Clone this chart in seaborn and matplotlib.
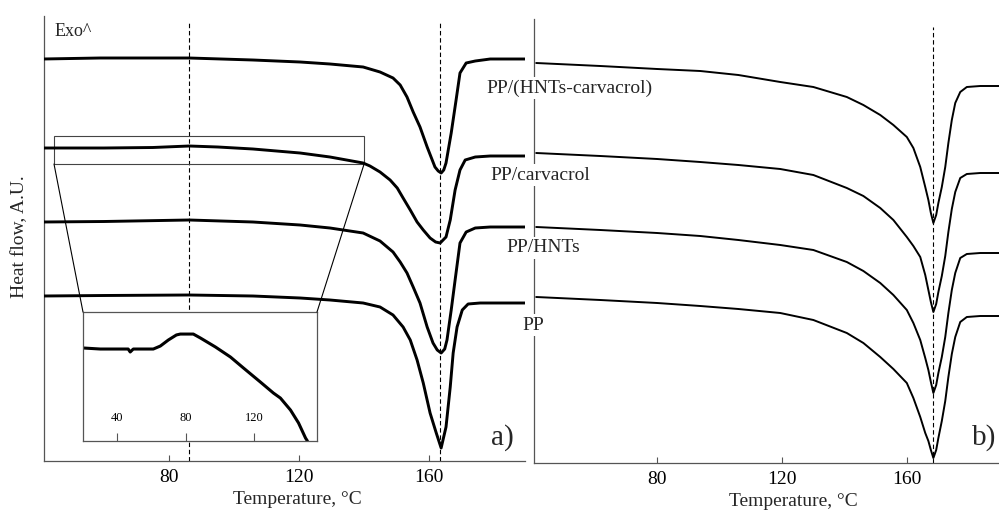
import numpy as np
import pandas as pd
import matplotlib
matplotlib.use("Agg")
import matplotlib.pyplot as plt
import seaborn as sns
from matplotlib.patches import Rectangle, ConnectionPatch

sns.set_theme(style="white")
plt.rcParams['font.family'] = ['Liberation Serif', 'DejaVu Serif']

# ---------------- data ----------------
samples = ["PP/(HNTs-carvacrol)", "PP/carvacrol", "PP/HNTs", "PP"]
x_ticks = [80, 120, 160]
inset_ticks = [40, 80, 120]

# panel a) – heat flow (A.U.) vs temperature (°C)
a_t1 = [41.2, 58.8, 86.2, 105.8, 120.3, 129.5, 139.7, 144.9, 148.9, 151.1, 153.2, 155.1, 157.2,
        159.4, 161.8, 162.8, 163.7, 164.5, 165.2, 166.8, 168.3, 169.5, 171.4, 174.2, 178.8, 189.5]
a_h1 = [40.2, 40.3, 40.3, 40.1, 39.9, 39.7, 39.4, 38.9, 38.3, 37.6, 36.4, 34.9, 33.4,
        31.4, 29.4, 29.0, 28.8, 29.1, 29.8, 32.8, 36.1, 38.8, 39.8, 40.0, 40.2, 40.2]

a_t2 = [41.2, 60.0, 75.0, 86.2, 95.0, 105.8, 120.3, 129.5, 139.7, 141.8, 144.9, 148.0, 150.2, 152.0,
        154.2, 156.3, 158.2, 160.3, 162.0, 163.4, 165.2, 166.5, 168.0, 169.5, 171.1, 174.2, 178.8, 189.5]
a_h2 = [31.3, 31.3, 31.35, 31.5, 31.4, 31.2, 30.8, 30.4, 29.8, 29.5, 28.9, 28.1, 27.3, 26.3,
        25.1, 23.9, 23.1, 22.3, 21.9, 21.8, 22.4, 24.1, 27.1, 29.1, 30.1, 30.4, 30.5, 30.5]

a_t3 = [41.2, 60.0, 86.2, 105.8, 120.3, 129.5, 139.7, 144.9, 148.9, 151.1, 153.2, 155.1, 157.2,
        159.4, 161.2, 162.5, 163.7, 164.8, 165.5, 166.8, 168.0, 169.5, 171.4, 174.2, 178.8, 189.5]
a_h3 = [23.9, 23.95, 24.1, 23.9, 23.6, 23.3, 22.8, 22.0, 20.9, 19.9, 18.8, 17.4, 15.8,
        13.4, 11.8, 11.1, 10.8, 11.2, 12.1, 15.1, 18.1, 21.8, 22.9, 23.3, 23.4, 23.4]

a_t4 = [41.2, 60.0, 86.2, 105.8, 120.3, 129.5, 139.7, 144.9, 148.9, 152.0, 154.2, 156.3, 158.2,
        160.3, 162.2, 163.7, 165.2, 166.5, 167.4, 168.6, 170.2, 172.0, 175.7, 189.5]
a_h4 = [16.5, 16.55, 16.6, 16.5, 16.3, 16.1, 15.8, 15.4, 14.6, 13.4, 12.1, 10.1, 7.8,
        4.8, 2.8, 1.3, 3.4, 7.4, 10.8, 13.4, 15.1, 15.7, 15.8, 15.8]

# inset of panel a) – PP/carvacrol baseline region
in_t = [20.1, 30.1, 46.4, 47.6, 49.4, 61.1, 65.2, 69.9, 74.6, 76.9, 84.5, 88.7, 97.4, 106.2,
        113.8, 123.7, 131.3, 135.4, 141.3, 146.0, 150.1, 151.2]
in_h = [72.1, 71.3, 71.3, 69.0, 71.3, 71.3, 73.6, 78.3, 82.2, 82.9, 82.9, 79.8, 72.9, 65.1,
        56.6, 45.7, 37.2, 33.3, 24.0, 14.0, 2.3, 0.0]

# panel b)
b_t = [41.3, 61.8, 80.0, 93.8, 106.0, 119.4, 130.0, 140.7, 146.0, 151.4, 155.6, 159.9, 162.0,
       164.2, 165.8, 166.8, 167.6, 168.4, 169.3, 170.0, 171.1, 172.2, 173.2, 174.3, 175.4, 177.0,
       179.1, 183.4, 189.4]
b_h1 = [40.0, 39.7, 39.4, 39.2, 38.8, 38.1, 37.6, 36.6, 35.8, 34.8, 33.8, 32.6, 31.5,
        29.6, 27.6, 26.3, 25.0, 24.0, 24.8, 26.0, 27.6, 29.6, 32.0, 34.3, 36.0, 37.1,
        37.6, 37.7, 37.7]
b_h2 = [31.0, 30.7, 30.4, 30.1, 29.8, 29.4, 28.8, 27.5, 26.7, 25.5, 24.3, 22.6, 21.7,
        20.6, 18.8, 17.3, 16.1, 15.1, 15.9, 17.1, 18.7, 20.7, 23.1, 25.4, 27.1, 28.5,
        28.9, 29.0, 29.0]
b_h3 = [23.6, 23.3, 23.0, 22.7, 22.3, 21.8, 21.3, 20.1, 19.2, 18.0, 16.8, 15.3, 14.0,
        12.3, 10.5, 9.3, 8.1, 7.0, 7.8, 9.0, 10.6, 12.6, 15.0, 17.3, 19.0, 20.5,
        20.9, 21.0, 21.0]
b_h4 = [16.6, 16.3, 16.0, 15.7, 15.4, 15.0, 14.3, 13.0, 12.0, 10.6, 9.4, 8.0, 6.5,
        4.6, 3.0, 2.2, 1.3, 0.5, 1.3, 2.5, 4.2, 6.2, 8.6, 10.9, 12.6, 14.1,
        14.6, 14.7, 14.7]

# reference temperatures (dashed lines)
a_marks = [86.2, 163.4]
b_marks = [168.3]
# zoom window in panel a) (T range, heat-flow range)
zoom_t = [44.6, 140.0]
zoom_h = [29.7, 32.5]

# ---------------- figure ----------------
W, H = 999, 511
fig = plt.figure(figsize=(W / 100, H / 100), dpi=100)
fig.patch.set_facecolor("white")

def fx(px):
    return px / W

def fy(py):
    return 1 - py / H

ax_a = fig.add_axes([fx(43.6), fy(461), fx(525 - 43.6), (461 - 16) / H])
ax_b = fig.add_axes([fx(534), fy(463), fx(999 - 534), (463 - 19) / H])
ax_in = fig.add_axes([fx(83), fy(441), fx(234), 129 / H])

spine_c = "#555555"
for ax in (ax_a, ax_b):
    for s in ("top", "right"):
        ax.spines[s].set_visible(False)
    for s in ("left", "bottom"):
        ax.spines[s].set_color(spine_c)
        ax.spines[s].set_linewidth(0.9)
    ax.set_yticks([])
    ax.set_xticks(x_ticks)
    ax.tick_params(axis="x", bottom=True, direction="in", length=4, width=0.8,
                   color=spine_c, labelsize=14, pad=6, labelcolor="black")
    ax.set_facecolor("white")

ax_a.set_xlim(41.4, 189.5)
ax_a.set_ylim(0, 44.5)
ax_b.set_xlim(40.6, 189.4)
ax_b.set_ylim(0, 44.4)

dash = (0, (4, 2.5))
for t in a_marks:
    ax_a.axvline(t, ymin=0, ymax=0.986, color="black", lw=0.8, ls=dash, zorder=1)
for t in b_marks:
    ax_b.axvline(t, ymin=0, ymax=0.982, color="black", lw=0.8, ls=dash, zorder=1)

for t, h in [(a_t1, a_h1), (a_t2, a_h2), (a_t3, a_h3), (a_t4, a_h4)]:
    sns.lineplot(x=t, y=h, ax=ax_a, color="black", lw=2.1, estimator=None, sort=False, zorder=3)
for h in (b_h1, b_h2, b_h3, b_h4):
    sns.lineplot(x=b_t, y=h, ax=ax_b, color="black", lw=1.4, estimator=None, sort=False, zorder=3)

ax_a.add_patch(Rectangle((zoom_t[0], zoom_h[0]), zoom_t[1] - zoom_t[0], zoom_h[1] - zoom_h[0],
                         fill=False, ec="#444444", lw=0.8, zorder=2))

# inset
sns.lineplot(x=in_t, y=in_h, ax=ax_in, color="black", lw=2.2, estimator=None, sort=False)
ax_in.set_xlim(20, 156.8)
ax_in.set_ylim(0, 100)
ax_in.set_yticks([])
ax_in.set_xticks(inset_ticks)
ax_in.set_facecolor("white")
for s in ax_in.spines.values():
    s.set_visible(True)
    s.set_color(spine_c)
    s.set_linewidth(0.9)
ax_in.tick_params(axis="x", bottom=True, direction="in", length=6, width=0.8,
                  color=spine_c, labelsize=9, pad=-21, labelcolor="black")

for xa in (zoom_t[0], zoom_t[1]):
    xb = 0 if xa == zoom_t[0] else 1
    con = ConnectionPatch(xyA=(xa, zoom_h[0]), coordsA=ax_a.transData,
                          xyB=(xb, 1), coordsB=ax_in.transAxes,
                          color="black", lw=0.8)
    fig.add_artist(con)

for ax in (ax_a, ax_b, ax_in):
    ax.set_xlabel("")
    ax.set_ylabel("")

# axis titles
fig.text(fx(297), fy(500), "Temperature, °C", ha="center", va="center", fontsize=14)
fig.text(fx(793), fy(501), "Temperature, °C", ha="center", va="center", fontsize=14)
fig.text(fx(20), fy(237), "Heat flow, A.U.", ha="center", va="center", rotation=90, fontsize=14)
fig.text(fx(55), fy(32), "Exo^", ha="left", va="center", fontsize=13)
fig.text(fx(502), fy(438), "a)", ha="center", va="center", fontsize=21)
fig.text(fx(984), fy(438), "b)", ha="center", va="center", fontsize=21)

# sample labels
label_pos = [(486, 88), (490, 175), (506, 248), (522, 325)]
for name, (px, py) in zip(samples, label_pos):
    fig.text(fx(px), fy(py), name, ha="left", va="center", fontsize=14, zorder=10,
             bbox=dict(fc="white", ec="none", pad=1.5))

fig.savefig("out.png", dpi=100, facecolor="white")
